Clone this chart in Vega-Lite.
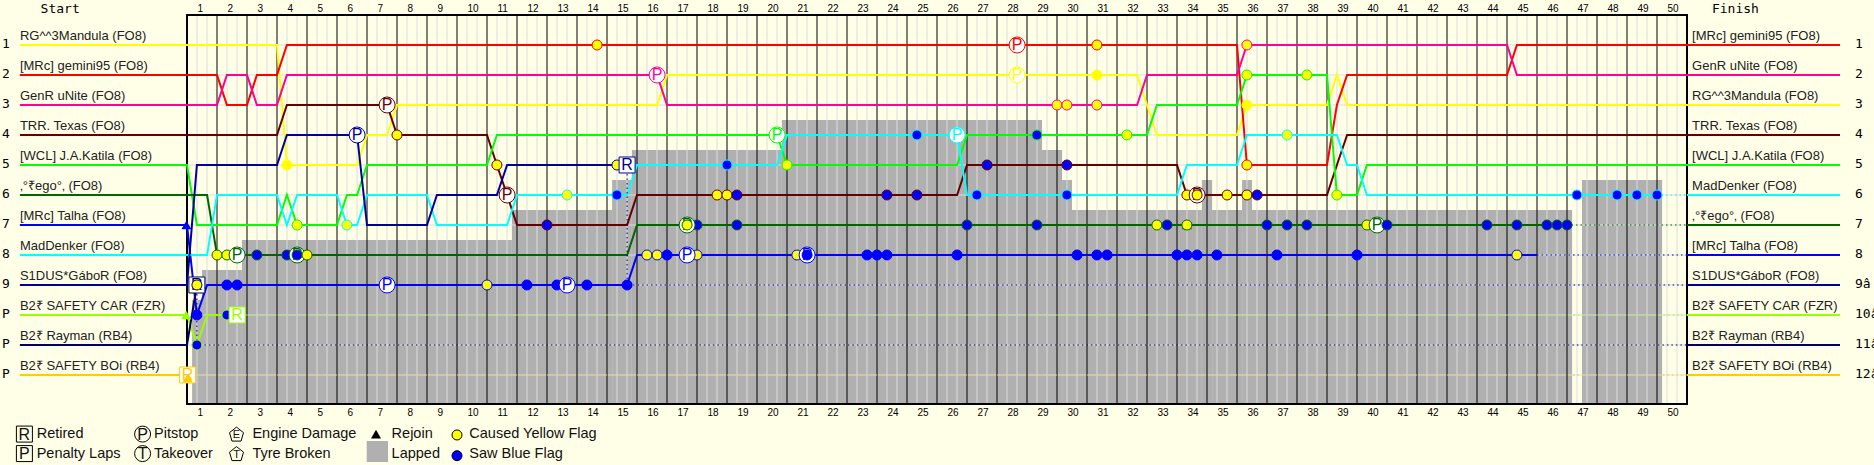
{
"$schema":"https://vega.github.io/schema/vega-lite/v6.json",
"width":1500,"height":389,"autosize":"none",
"padding":{"left":187,"top":15,"right":187,"bottom":61},
"background":"#ffffe8",
"config":{"view":{"stroke":null}},
"datasets":{
"lapped":[
{"lap":0.17,"lap2":0.5,"row":9.5,"row2":12.967},{"lap":0.5,"lap2":1.83,"row":8.5,"row2":12.967},{"lap":1.83,"lap2":10.83,"row":7.5,"row2":12.967},{"lap":10.83,"lap2":14.17,"row":6.5,"row2":12.967},{"lap":14.17,"lap2":14.83,"row":5.5,"row2":12.967},{"lap":14.83,"lap2":19.83,"row":4.5,"row2":12.967},{"lap":19.83,"lap2":28.5,"row":3.5,"row2":12.967},{"lap":28.5,"lap2":29.17,"row":4.5,"row2":12.967},{"lap":29.17,"lap2":29.5,"row":5.5,"row2":12.967},{"lap":29.5,"lap2":33.83,"row":6.5,"row2":12.967},{"lap":33.83,"lap2":34.17,"row":5.5,"row2":12.967},{"lap":34.17,"lap2":35.17,"row":6.5,"row2":12.967},{"lap":35.17,"lap2":35.5,"row":5.5,"row2":12.967},{"lap":35.5,"lap2":46.17,"row":6.5,"row2":12.967},{"lap":46.5,"lap2":49.17,"row":5.5,"row2":12.967}],
"frame":[{"lap":0,"lap2":50,"row":0,"row2":12.967}],
"legendGrey":[{"lap":5.99,"lap2":6.7,"row":14.2,"row2":14.9}],
"thirds":[{"lap":0.333,"row":0,"row2":12.967},{"lap":0.667,"row":0,"row2":12.967},{"lap":1.333,"row":0,"row2":12.967},{"lap":1.667,"row":0,"row2":12.967},{"lap":2.333,"row":0,"row2":12.967},{"lap":2.667,"row":0,"row2":12.967},{"lap":3.333,"row":0,"row2":12.967},{"lap":3.667,"row":0,"row2":12.967},{"lap":4.333,"row":0,"row2":12.967},{"lap":4.667,"row":0,"row2":12.967},{"lap":5.333,"row":0,"row2":12.967},{"lap":5.667,"row":0,"row2":12.967},{"lap":6.333,"row":0,"row2":12.967},{"lap":6.667,"row":0,"row2":12.967},{"lap":7.333,"row":0,"row2":12.967},{"lap":7.667,"row":0,"row2":12.967},{"lap":8.333,"row":0,"row2":12.967},{"lap":8.667,"row":0,"row2":12.967},{"lap":9.333,"row":0,"row2":12.967},{"lap":9.667,"row":0,"row2":12.967},{"lap":10.333,"row":0,"row2":12.967},{"lap":10.667,"row":0,"row2":12.967},{"lap":11.333,"row":0,"row2":12.967},{"lap":11.667,"row":0,"row2":12.967},{"lap":12.333,"row":0,"row2":12.967},{"lap":12.667,"row":0,"row2":12.967},{"lap":13.333,"row":0,"row2":12.967},{"lap":13.667,"row":0,"row2":12.967},{"lap":14.333,"row":0,"row2":12.967},{"lap":14.667,"row":0,"row2":12.967},{"lap":15.333,"row":0,"row2":12.967},{"lap":15.667,"row":0,"row2":12.967},{"lap":16.333,"row":0,"row2":12.967},{"lap":16.667,"row":0,"row2":12.967},{"lap":17.333,"row":0,"row2":12.967},{"lap":17.667,"row":0,"row2":12.967},{"lap":18.333,"row":0,"row2":12.967},{"lap":18.667,"row":0,"row2":12.967},{"lap":19.333,"row":0,"row2":12.967},{"lap":19.667,"row":0,"row2":12.967},{"lap":20.333,"row":0,"row2":12.967},{"lap":20.667,"row":0,"row2":12.967},{"lap":21.333,"row":0,"row2":12.967},{"lap":21.667,"row":0,"row2":12.967},{"lap":22.333,"row":0,"row2":12.967},{"lap":22.667,"row":0,"row2":12.967},{"lap":23.333,"row":0,"row2":12.967},{"lap":23.667,"row":0,"row2":12.967},{"lap":24.333,"row":0,"row2":12.967},{"lap":24.667,"row":0,"row2":12.967},{"lap":25.333,"row":0,"row2":12.967},{"lap":25.667,"row":0,"row2":12.967},{"lap":26.333,"row":0,"row2":12.967},{"lap":26.667,"row":0,"row2":12.967},{"lap":27.333,"row":0,"row2":12.967},{"lap":27.667,"row":0,"row2":12.967},{"lap":28.333,"row":0,"row2":12.967},{"lap":28.667,"row":0,"row2":12.967},{"lap":29.333,"row":0,"row2":12.967},{"lap":29.667,"row":0,"row2":12.967},{"lap":30.333,"row":0,"row2":12.967},{"lap":30.667,"row":0,"row2":12.967},{"lap":31.333,"row":0,"row2":12.967},{"lap":31.667,"row":0,"row2":12.967},{"lap":32.333,"row":0,"row2":12.967},{"lap":32.667,"row":0,"row2":12.967},{"lap":33.333,"row":0,"row2":12.967},{"lap":33.667,"row":0,"row2":12.967},{"lap":34.333,"row":0,"row2":12.967},{"lap":34.667,"row":0,"row2":12.967},{"lap":35.333,"row":0,"row2":12.967},{"lap":35.667,"row":0,"row2":12.967},{"lap":36.333,"row":0,"row2":12.967},{"lap":36.667,"row":0,"row2":12.967},{"lap":37.333,"row":0,"row2":12.967},{"lap":37.667,"row":0,"row2":12.967},{"lap":38.333,"row":0,"row2":12.967},{"lap":38.667,"row":0,"row2":12.967},{"lap":39.333,"row":0,"row2":12.967},{"lap":39.667,"row":0,"row2":12.967},{"lap":40.333,"row":0,"row2":12.967},{"lap":40.667,"row":0,"row2":12.967},{"lap":41.333,"row":0,"row2":12.967},{"lap":41.667,"row":0,"row2":12.967},{"lap":42.333,"row":0,"row2":12.967},{"lap":42.667,"row":0,"row2":12.967},{"lap":43.333,"row":0,"row2":12.967},{"lap":43.667,"row":0,"row2":12.967},{"lap":44.333,"row":0,"row2":12.967},{"lap":44.667,"row":0,"row2":12.967},{"lap":45.333,"row":0,"row2":12.967},{"lap":45.667,"row":0,"row2":12.967},{"lap":46.333,"row":0,"row2":12.967},{"lap":46.667,"row":0,"row2":12.967},{"lap":47.333,"row":0,"row2":12.967},{"lap":47.667,"row":0,"row2":12.967},{"lap":48.333,"row":0,"row2":12.967},{"lap":48.667,"row":0,"row2":12.967},{"lap":49.333,"row":0,"row2":12.967},{"lap":49.667,"row":0,"row2":12.967}],
"whole":[{"lap":1,"row":0,"row2":12.967},{"lap":2,"row":0,"row2":12.967},{"lap":3,"row":0,"row2":12.967},{"lap":4,"row":0,"row2":12.967},{"lap":5,"row":0,"row2":12.967},{"lap":6,"row":0,"row2":12.967},{"lap":7,"row":0,"row2":12.967},{"lap":8,"row":0,"row2":12.967},{"lap":9,"row":0,"row2":12.967},{"lap":10,"row":0,"row2":12.967},{"lap":11,"row":0,"row2":12.967},{"lap":12,"row":0,"row2":12.967},{"lap":13,"row":0,"row2":12.967},{"lap":14,"row":0,"row2":12.967},{"lap":15,"row":0,"row2":12.967},{"lap":16,"row":0,"row2":12.967},{"lap":17,"row":0,"row2":12.967},{"lap":18,"row":0,"row2":12.967},{"lap":19,"row":0,"row2":12.967},{"lap":20,"row":0,"row2":12.967},{"lap":21,"row":0,"row2":12.967},{"lap":22,"row":0,"row2":12.967},{"lap":23,"row":0,"row2":12.967},{"lap":24,"row":0,"row2":12.967},{"lap":25,"row":0,"row2":12.967},{"lap":26,"row":0,"row2":12.967},{"lap":27,"row":0,"row2":12.967},{"lap":28,"row":0,"row2":12.967},{"lap":29,"row":0,"row2":12.967},{"lap":30,"row":0,"row2":12.967},{"lap":31,"row":0,"row2":12.967},{"lap":32,"row":0,"row2":12.967},{"lap":33,"row":0,"row2":12.967},{"lap":34,"row":0,"row2":12.967},{"lap":35,"row":0,"row2":12.967},{"lap":36,"row":0,"row2":12.967},{"lap":37,"row":0,"row2":12.967},{"lap":38,"row":0,"row2":12.967},{"lap":39,"row":0,"row2":12.967},{"lap":40,"row":0,"row2":12.967},{"lap":41,"row":0,"row2":12.967},{"lap":42,"row":0,"row2":12.967},{"lap":43,"row":0,"row2":12.967},{"lap":44,"row":0,"row2":12.967},{"lap":45,"row":0,"row2":12.967},{"lap":46,"row":0,"row2":12.967},{"lap":47,"row":0,"row2":12.967},{"lap":48,"row":0,"row2":12.967},{"lap":49,"row":0,"row2":12.967}],
"rows":[{"row":1,"lap":0,"lap2":50},{"row":2,"lap":0,"lap2":50},{"row":3,"lap":0,"lap2":50},{"row":4,"lap":0,"lap2":50},{"row":5,"lap":0,"lap2":50},{"row":6,"lap":0,"lap2":50},{"row":7,"lap":0,"lap2":50},{"row":8,"lap":0,"lap2":50},{"row":9,"lap":0,"lap2":50},{"row":10,"lap":0,"lap2":50},{"row":11,"lap":0,"lap2":50},{"row":12,"lap":0,"lap2":50}],
"solid":[
{"driver":"Mandula","seg":"a","lap":-5.57,"row":1},{"driver":"Mandula","seg":"a","lap":3,"row":1},{"driver":"Mandula","seg":"a","lap":3.33,"row":5},{"driver":"Mandula","seg":"a","lap":5.67,"row":5},{"driver":"Mandula","seg":"a","lap":6,"row":4},{"driver":"Mandula","seg":"a","lap":6.67,"row":4},{"driver":"Mandula","seg":"a","lap":7,"row":3},{"driver":"Mandula","seg":"a","lap":15.67,"row":3},{"driver":"Mandula","seg":"a","lap":16,"row":2},{"driver":"Mandula","seg":"a","lap":31.67,"row":2},{"driver":"Mandula","seg":"a","lap":32,"row":3},{"driver":"Mandula","seg":"a","lap":32.33,"row":4},{"driver":"Mandula","seg":"a","lap":35,"row":4},{"driver":"Mandula","seg":"a","lap":35.33,"row":3},{"driver":"Mandula","seg":"a","lap":38,"row":3},{"driver":"Mandula","seg":"a","lap":38.33,"row":2},{"driver":"Mandula","seg":"a","lap":38.67,"row":3},{"driver":"Mandula","seg":"a","lap":55.1,"row":3},
{"driver":"gemini95","seg":"a","lap":-5.57,"row":2},{"driver":"gemini95","seg":"a","lap":1,"row":2},{"driver":"gemini95","seg":"a","lap":1.33,"row":3},{"driver":"gemini95","seg":"a","lap":2,"row":3},{"driver":"gemini95","seg":"a","lap":2.33,"row":2},{"driver":"gemini95","seg":"a","lap":3,"row":2},{"driver":"gemini95","seg":"a","lap":3.33,"row":1},{"driver":"gemini95","seg":"a","lap":35,"row":1},{"driver":"gemini95","seg":"a","lap":35.33,"row":5},{"driver":"gemini95","seg":"a","lap":38,"row":5},{"driver":"gemini95","seg":"a","lap":38.33,"row":3},{"driver":"gemini95","seg":"a","lap":38.67,"row":2},{"driver":"gemini95","seg":"a","lap":44,"row":2},{"driver":"gemini95","seg":"a","lap":44.33,"row":1},{"driver":"gemini95","seg":"a","lap":55.1,"row":1},
{"driver":"uNite","seg":"a","lap":-5.57,"row":3},{"driver":"uNite","seg":"a","lap":1,"row":3},{"driver":"uNite","seg":"a","lap":1.33,"row":2},{"driver":"uNite","seg":"a","lap":2,"row":2},{"driver":"uNite","seg":"a","lap":2.33,"row":3},{"driver":"uNite","seg":"a","lap":3,"row":3},{"driver":"uNite","seg":"a","lap":3.33,"row":2},{"driver":"uNite","seg":"a","lap":15.67,"row":2},{"driver":"uNite","seg":"a","lap":16,"row":3},{"driver":"uNite","seg":"a","lap":31.67,"row":3},{"driver":"uNite","seg":"a","lap":32,"row":2},{"driver":"uNite","seg":"a","lap":35,"row":2},{"driver":"uNite","seg":"a","lap":35.33,"row":1},{"driver":"uNite","seg":"a","lap":44,"row":1},{"driver":"uNite","seg":"a","lap":44.33,"row":2},{"driver":"uNite","seg":"a","lap":55.1,"row":2},
{"driver":"Texas","seg":"a","lap":-5.57,"row":4},{"driver":"Texas","seg":"a","lap":3,"row":4},{"driver":"Texas","seg":"a","lap":3.33,"row":3},{"driver":"Texas","seg":"a","lap":6.67,"row":3},{"driver":"Texas","seg":"a","lap":7,"row":4},{"driver":"Texas","seg":"a","lap":10,"row":4},{"driver":"Texas","seg":"a","lap":10.33,"row":5},{"driver":"Texas","seg":"a","lap":10.67,"row":6},{"driver":"Texas","seg":"a","lap":11,"row":7},{"driver":"Texas","seg":"a","lap":14.67,"row":7},{"driver":"Texas","seg":"a","lap":15,"row":6},{"driver":"Texas","seg":"a","lap":25.67,"row":6},{"driver":"Texas","seg":"a","lap":26,"row":5},{"driver":"Texas","seg":"a","lap":33,"row":5},{"driver":"Texas","seg":"a","lap":33.33,"row":6},{"driver":"Texas","seg":"a","lap":38,"row":6},{"driver":"Texas","seg":"a","lap":38.33,"row":5},{"driver":"Texas","seg":"a","lap":38.67,"row":4},{"driver":"Texas","seg":"a","lap":55.1,"row":4},
{"driver":"Katila","seg":"a","lap":-5.57,"row":5},{"driver":"Katila","seg":"a","lap":0,"row":5},{"driver":"Katila","seg":"a","lap":0.33,"row":7},{"driver":"Katila","seg":"a","lap":3,"row":7},{"driver":"Katila","seg":"a","lap":3.33,"row":6},{"driver":"Katila","seg":"a","lap":3.67,"row":7},{"driver":"Katila","seg":"a","lap":5,"row":7},{"driver":"Katila","seg":"a","lap":5.33,"row":6},{"driver":"Katila","seg":"a","lap":5.67,"row":6},{"driver":"Katila","seg":"a","lap":6,"row":5},{"driver":"Katila","seg":"a","lap":10,"row":5},{"driver":"Katila","seg":"a","lap":10.33,"row":4},{"driver":"Katila","seg":"a","lap":19.67,"row":4},{"driver":"Katila","seg":"a","lap":20,"row":5},{"driver":"Katila","seg":"a","lap":25.67,"row":5},{"driver":"Katila","seg":"a","lap":26,"row":4},{"driver":"Katila","seg":"a","lap":32,"row":4},{"driver":"Katila","seg":"a","lap":32.33,"row":3},{"driver":"Katila","seg":"a","lap":35,"row":3},{"driver":"Katila","seg":"a","lap":35.33,"row":2},{"driver":"Katila","seg":"a","lap":38,"row":2},{"driver":"Katila","seg":"a","lap":38.33,"row":6},{"driver":"Katila","seg":"a","lap":39,"row":6},{"driver":"Katila","seg":"a","lap":39.33,"row":5},{"driver":"Katila","seg":"a","lap":55.1,"row":5},
{"driver":"Rego","seg":"a","lap":-5.57,"row":6},{"driver":"Rego","seg":"a","lap":0.67,"row":6},{"driver":"Rego","seg":"a","lap":1,"row":8},{"driver":"Rego","seg":"a","lap":14.67,"row":8},{"driver":"Rego","seg":"a","lap":15,"row":7},{"driver":"Rego","seg":"a","lap":46,"row":7},{"driver":"Rego","seg":"z","lap":50,"row":7},{"driver":"Rego","seg":"z","lap":55.1,"row":7},
{"driver":"Talha","seg":"a","lap":-5.57,"row":7},{"driver":"Talha","seg":"a","lap":0,"row":7},{"driver":"Talha","seg":"a","lap":0.33,"row":10},{"driver":"Talha","seg":"a","lap":0.67,"row":9},{"driver":"Talha","seg":"a","lap":14.67,"row":9},{"driver":"Talha","seg":"a","lap":15,"row":8},{"driver":"Talha","seg":"a","lap":45,"row":8},{"driver":"Talha","seg":"z","lap":50,"row":8},{"driver":"Talha","seg":"z","lap":55.1,"row":8},
{"driver":"MadDenker","seg":"a","lap":-5.57,"row":8},{"driver":"MadDenker","seg":"a","lap":0.67,"row":8},{"driver":"MadDenker","seg":"a","lap":1,"row":6},{"driver":"MadDenker","seg":"a","lap":3,"row":6},{"driver":"MadDenker","seg":"a","lap":3.33,"row":7},{"driver":"MadDenker","seg":"a","lap":3.67,"row":6},{"driver":"MadDenker","seg":"a","lap":5,"row":6},{"driver":"MadDenker","seg":"a","lap":5.33,"row":7},{"driver":"MadDenker","seg":"a","lap":5.67,"row":7},{"driver":"MadDenker","seg":"a","lap":6,"row":6},{"driver":"MadDenker","seg":"a","lap":8,"row":6},{"driver":"MadDenker","seg":"a","lap":8.33,"row":7},{"driver":"MadDenker","seg":"a","lap":10.67,"row":7},{"driver":"MadDenker","seg":"a","lap":11,"row":6},{"driver":"MadDenker","seg":"a","lap":14.67,"row":6},{"driver":"MadDenker","seg":"a","lap":15,"row":5},{"driver":"MadDenker","seg":"a","lap":19.67,"row":5},{"driver":"MadDenker","seg":"a","lap":20,"row":4},{"driver":"MadDenker","seg":"a","lap":25.67,"row":4},{"driver":"MadDenker","seg":"a","lap":26,"row":6},{"driver":"MadDenker","seg":"a","lap":33,"row":6},{"driver":"MadDenker","seg":"a","lap":33.33,"row":5},{"driver":"MadDenker","seg":"a","lap":35,"row":5},{"driver":"MadDenker","seg":"a","lap":35.33,"row":4},{"driver":"MadDenker","seg":"a","lap":38.33,"row":4},{"driver":"MadDenker","seg":"a","lap":38.67,"row":5},{"driver":"MadDenker","seg":"a","lap":39,"row":5},{"driver":"MadDenker","seg":"a","lap":39.33,"row":6},{"driver":"MadDenker","seg":"a","lap":49,"row":6},{"driver":"MadDenker","seg":"z","lap":50,"row":6},{"driver":"MadDenker","seg":"z","lap":55.1,"row":6},
{"driver":"Gabor","seg":"a","lap":-5.57,"row":9},{"driver":"Gabor","seg":"a","lap":0,"row":9},{"driver":"Gabor","seg":"a","lap":0.33,"row":5},{"driver":"Gabor","seg":"a","lap":3,"row":5},{"driver":"Gabor","seg":"a","lap":3.33,"row":4},{"driver":"Gabor","seg":"a","lap":5.67,"row":4},{"driver":"Gabor","seg":"a","lap":6,"row":7},{"driver":"Gabor","seg":"a","lap":8,"row":7},{"driver":"Gabor","seg":"a","lap":8.33,"row":6},{"driver":"Gabor","seg":"a","lap":10.33,"row":6},{"driver":"Gabor","seg":"a","lap":10.67,"row":5},{"driver":"Gabor","seg":"a","lap":14.67,"row":5},{"driver":"Gabor","seg":"z","lap":50,"row":9},{"driver":"Gabor","seg":"z","lap":55.1,"row":9},
{"driver":"SafetyCar","seg":"a","lap":-5.57,"row":10},{"driver":"SafetyCar","seg":"a","lap":0,"row":10},{"driver":"SafetyCar","seg":"a","lap":0.33,"row":11},{"driver":"SafetyCar","seg":"a","lap":0.67,"row":10},{"driver":"SafetyCar","seg":"a","lap":1.67,"row":10},{"driver":"SafetyCar","seg":"z","lap":50,"row":10},{"driver":"SafetyCar","seg":"z","lap":55.1,"row":10},
{"driver":"Rayman","seg":"a","lap":-5.57,"row":11},{"driver":"Rayman","seg":"a","lap":0,"row":11},{"driver":"Rayman","seg":"a","lap":0.33,"row":9},{"driver":"Rayman","seg":"z","lap":50,"row":11},{"driver":"Rayman","seg":"z","lap":55.1,"row":11},
{"driver":"BOi","seg":"a","lap":-5.57,"row":12},{"driver":"BOi","seg":"a","lap":0,"row":12},{"driver":"BOi","seg":"z","lap":50,"row":12},{"driver":"BOi","seg":"z","lap":55.1,"row":12}],
"dotted":[
{"driver":"Rego","lap":46,"row":7},{"driver":"Rego","lap":50,"row":7},
{"driver":"Talha","lap":45,"row":8},{"driver":"Talha","lap":50,"row":8},
{"driver":"MadDenker","lap":49,"row":6},{"driver":"MadDenker","lap":50,"row":6},
{"driver":"Gabor","lap":14.67,"row":5},{"driver":"Gabor","lap":14.67,"row":9},{"driver":"Gabor","lap":50,"row":9},
{"driver":"SafetyCar","lap":1.67,"row":10},{"driver":"SafetyCar","lap":50,"row":10},
{"driver":"Rayman","lap":0.33,"row":9},{"driver":"Rayman","lap":0.33,"row":11},{"driver":"Rayman","lap":50,"row":11},
{"driver":"BOi","lap":0,"row":12},{"driver":"BOi","lap":50,"row":12}],
"dotsUnder":[
{"driver":"gemini95","kind":"Y","lap":13.67,"row":1},{"driver":"gemini95","kind":"Y","lap":30.33,"row":1},{"driver":"uNite","kind":"Y","lap":35.33,"row":1},
{"driver":"Mandula","kind":"Y","lap":30.33,"row":2},{"driver":"Katila","kind":"Y","lap":35.33,"row":2},{"driver":"Katila","kind":"Y","lap":37.33,"row":2},
{"driver":"uNite","kind":"Y","lap":29,"row":3},{"driver":"uNite","kind":"Y","lap":29.33,"row":3},{"driver":"uNite","kind":"Y","lap":30.33,"row":3},{"driver":"Mandula","kind":"Y","lap":35.33,"row":3},
{"driver":"Texas","kind":"Y","lap":7,"row":4},{"driver":"MadDenker","kind":"B","lap":24.33,"row":4},{"driver":"Katila","kind":"B","lap":28.33,"row":4},{"driver":"Katila","kind":"Y","lap":31.33,"row":4},{"driver":"MadDenker","kind":"Y","lap":36.67,"row":4},
{"driver":"Mandula","kind":"Y","lap":3.33,"row":5},{"driver":"Texas","kind":"Y","lap":10.33,"row":5},{"driver":"Gabor","kind":"Y","lap":14.33,"row":5},{"driver":"MadDenker","kind":"B","lap":18,"row":5},{"driver":"Katila","kind":"Y","lap":20,"row":5},{"driver":"Texas","kind":"B","lap":26.67,"row":5},{"driver":"Texas","kind":"B","lap":29.33,"row":5},{"driver":"gemini95","kind":"Y","lap":35.33,"row":5},
{"driver":"MadDenker","kind":"Y","lap":12.67,"row":6},{"driver":"MadDenker","kind":"B","lap":14.33,"row":6},{"driver":"Texas","kind":"Y","lap":17.67,"row":6},{"driver":"Texas","kind":"Y","lap":18,"row":6},{"driver":"Texas","kind":"B","lap":18.33,"row":6},{"driver":"Texas","kind":"B","lap":23.33,"row":6},{"driver":"Texas","kind":"B","lap":24.33,"row":6},{"driver":"MadDenker","kind":"B","lap":26.33,"row":6},{"driver":"MadDenker","kind":"B","lap":29.33,"row":6},{"driver":"Texas","kind":"Y","lap":33.33,"row":6},{"driver":"Texas","kind":"Y","lap":34.67,"row":6},{"driver":"Texas","kind":"Y","lap":35.33,"row":6},{"driver":"Texas","kind":"B","lap":35.67,"row":6},{"driver":"Katila","kind":"Y","lap":38.33,"row":6},{"driver":"MadDenker","kind":"B","lap":46.33,"row":6},{"driver":"MadDenker","kind":"B","lap":47.67,"row":6},{"driver":"MadDenker","kind":"B","lap":48.33,"row":6},{"driver":"MadDenker","kind":"B","lap":49,"row":6},
{"driver":"Katila","kind":"Y","lap":3.67,"row":7},{"driver":"MadDenker","kind":"Y","lap":5.33,"row":7},{"driver":"Texas","kind":"B","lap":12,"row":7},{"driver":"Rego","kind":"B","lap":17,"row":7},{"driver":"Rego","kind":"B","lap":18.33,"row":7},{"driver":"Rego","kind":"B","lap":26,"row":7},{"driver":"Rego","kind":"B","lap":28.33,"row":7},{"driver":"Rego","kind":"Y","lap":32.33,"row":7},{"driver":"Rego","kind":"B","lap":32.67,"row":7},{"driver":"Rego","kind":"B","lap":36,"row":7},{"driver":"Rego","kind":"B","lap":36.67,"row":7},{"driver":"Rego","kind":"B","lap":37.33,"row":7},{"driver":"Rego","kind":"Y","lap":39.33,"row":7},{"driver":"Rego","kind":"B","lap":43.33,"row":7},{"driver":"Rego","kind":"B","lap":44.33,"row":7},{"driver":"Rego","kind":"B","lap":45.33,"row":7},{"driver":"Rego","kind":"B","lap":45.67,"row":7},{"driver":"Rego","kind":"B","lap":46,"row":7},
{"driver":"Rego","kind":"Y","lap":1,"row":8},{"driver":"Rego","kind":"Y","lap":1.33,"row":8},{"driver":"Rego","kind":"B","lap":2.33,"row":8},{"driver":"Rego","kind":"B","lap":3.33,"row":8},{"driver":"Talha","kind":"Y","lap":15.33,"row":8},{"driver":"Talha","kind":"Y","lap":15.67,"row":8},{"driver":"Talha","kind":"B","lap":16,"row":8},{"driver":"Talha","kind":"Y","lap":17,"row":8},{"driver":"Talha","kind":"Y","lap":20.33,"row":8},{"driver":"Talha","kind":"B","lap":22.67,"row":8},{"driver":"Talha","kind":"B","lap":23,"row":8},{"driver":"Talha","kind":"B","lap":23.33,"row":8},{"driver":"Talha","kind":"B","lap":25.67,"row":8},{"driver":"Talha","kind":"B","lap":29.67,"row":8},{"driver":"Talha","kind":"B","lap":30.33,"row":8},{"driver":"Talha","kind":"B","lap":30.67,"row":8},{"driver":"Talha","kind":"B","lap":33,"row":8},{"driver":"Talha","kind":"B","lap":33.33,"row":8},{"driver":"Talha","kind":"B","lap":33.67,"row":8},{"driver":"Talha","kind":"B","lap":34.33,"row":8},{"driver":"Talha","kind":"B","lap":36.33,"row":8},{"driver":"Talha","kind":"B","lap":39,"row":8},{"driver":"Talha","kind":"Y","lap":44.33,"row":8},
{"driver":"Talha","kind":"B","lap":1.33,"row":9},{"driver":"Talha","kind":"B","lap":1.67,"row":9},{"driver":"Talha","kind":"Y","lap":10,"row":9},{"driver":"Talha","kind":"B","lap":11.33,"row":9},{"driver":"Talha","kind":"B","lap":12.33,"row":9},{"driver":"Talha","kind":"B","lap":13.33,"row":9},{"driver":"Talha","kind":"B","lap":14.67,"row":9},
{"driver":"Talha","kind":"B","lap":0.33,"row":10},{"driver":"SafetyCar","kind":"B","lap":1.33,"row":10},{"driver":"SafetyCar","kind":"B","lap":0.33,"row":11}],
"dotsOver":[
{"driver":"Texas","kind":"Y","lap":33.67,"row":6},{"driver":"Rego","kind":"Y","lap":16.67,"row":7},{"driver":"Rego","kind":"Y","lap":33.33,"row":7},{"driver":"Rego","kind":"B","lap":40,"row":7},{"driver":"Rego","kind":"B","lap":3.67,"row":8},{"driver":"Rego","kind":"Y","lap":4,"row":8},{"driver":"Talha","kind":"B","lap":20.67,"row":8},{"driver":"Rayman","kind":"Y","lap":0.33,"row":9}],
"pits":[
{"driver":"Texas","lap":6.67,"row":3},{"driver":"Gabor","lap":5.67,"row":4},{"driver":"uNite","lap":15.67,"row":2},{"driver":"Katila","lap":19.67,"row":4},{"driver":"MadDenker","lap":25.67,"row":4},{"driver":"gemini95","lap":27.67,"row":1},{"driver":"Mandula","lap":27.67,"row":2},{"driver":"Rego","lap":1.67,"row":8},{"driver":"Rego","lap":3.67,"row":8},{"driver":"Talha","lap":6.67,"row":9},{"driver":"Texas","lap":10.67,"row":6},{"driver":"Talha","lap":12.67,"row":9},{"driver":"Talha","lap":16.67,"row":8},{"driver":"Rego","lap":16.67,"row":7},{"driver":"Talha","lap":20.67,"row":8},{"driver":"Texas","lap":33.67,"row":6},{"driver":"Rego","lap":39.67,"row":7}],
"retired":[{"driver":"Gabor","lap":14.67,"row":5},{"driver":"Rayman","lap":0.33,"row":9},{"driver":"SafetyCar","lap":1.67,"row":10},{"driver":"BOi","lap":0.02,"row":12}],
"rejoin":[{"driver":"Talha","lap":-0.02,"row":7},{"driver":"SafetyCar","lap":-0.03,"row":10},{"driver":"BOi","lap":0.02,"row":12.1},{"driver":"Rego","lap":33.33,"row":7}],
"names":[
{"lap":-5.57,"row":0.833,"label":"RG^^3Mandula (FO8)"},{"lap":-5.57,"row":1.833,"label":"[MRc] gemini95 (FO8)"},{"lap":-5.57,"row":2.833,"label":"GenR uNite (FO8)"},{"lap":-5.57,"row":3.833,"label":"TRR. Texas (FO8)"},{"lap":-5.57,"row":4.833,"label":"[WCL] J.A.Katila (FO8)"},{"lap":-5.57,"row":5.833,"label":"‚°₹ego°‚  (FO8)"},{"lap":-5.57,"row":6.833,"label":"[MRc] Talha (FO8)"},{"lap":-5.57,"row":7.833,"label":"MadDenker (FO8)"},{"lap":-5.57,"row":8.833,"label":"S1DUS*GáboR (FO8)"},{"lap":-5.57,"row":9.833,"label":"B2₹ SAFETY CAR (FZR)"},{"lap":-5.57,"row":10.833,"label":"B2₹ Rayman (RB4)"},{"lap":-5.57,"row":11.833,"label":"B2₹ SAFETY BOi (RB4)"},
{"lap":50.17,"row":0.833,"label":"[MRc] gemini95 (FO8)"},{"lap":50.17,"row":1.833,"label":"GenR uNite (FO8)"},{"lap":50.17,"row":2.833,"label":"RG^^3Mandula (FO8)"},{"lap":50.17,"row":3.833,"label":"TRR. Texas (FO8)"},{"lap":50.17,"row":4.833,"label":"[WCL] J.A.Katila (FO8)"},{"lap":50.17,"row":5.833,"label":"MadDenker (FO8)"},{"lap":50.17,"row":6.833,"label":"‚°₹ego°‚  (FO8)"},{"lap":50.17,"row":7.833,"label":"[MRc] Talha (FO8)"},{"lap":50.17,"row":8.833,"label":"S1DUS*GáboR (FO8)"},{"lap":50.17,"row":9.833,"label":"B2₹ SAFETY CAR (FZR)"},{"lap":50.17,"row":10.833,"label":"B2₹ Rayman (RB4)"},{"lap":50.17,"row":11.833,"label":"B2₹ SAFETY BOi (RB4)"}],
"positions":[
{"lap":-6.17,"row":1.11,"label":"1"},{"lap":-6.17,"row":2.11,"label":"2"},{"lap":-6.17,"row":3.11,"label":"3"},{"lap":-6.17,"row":4.11,"label":"4"},{"lap":-6.17,"row":5.11,"label":"5"},{"lap":-6.17,"row":6.11,"label":"6"},{"lap":-6.17,"row":7.11,"label":"7"},{"lap":-6.17,"row":8.11,"label":"8"},{"lap":-6.17,"row":9.11,"label":"9"},{"lap":-6.17,"row":10.11,"label":"P"},{"lap":-6.17,"row":11.11,"label":"P"},{"lap":-6.17,"row":12.11,"label":"P"},
{"lap":55.6,"row":1.11,"label":"1"},{"lap":55.6,"row":2.11,"label":"2"},{"lap":55.6,"row":3.11,"label":"3"},{"lap":55.6,"row":4.11,"label":"4"},{"lap":55.6,"row":5.11,"label":"5"},{"lap":55.6,"row":6.11,"label":"6"},{"lap":55.6,"row":7.11,"label":"7"},{"lap":55.6,"row":8.11,"label":"8"},{"lap":55.6,"row":9.11,"label":"9â"},{"lap":55.6,"row":10.11,"label":"10â"},{"lap":55.6,"row":11.11,"label":"11â"},{"lap":55.6,"row":12.11,"label":"12â"}],
"headers":[{"lap":-4.88,"row":-0.06,"label":"Start"},{"lap":50.83,"row":-0.06,"label":"Finish"}],
"lapLabels":[
{"lap":0.35,"row":-0.2,"label":"1"},{"lap":1.35,"row":-0.2,"label":"2"},{"lap":2.35,"row":-0.2,"label":"3"},{"lap":3.35,"row":-0.2,"label":"4"},{"lap":4.35,"row":-0.2,"label":"5"},{"lap":5.35,"row":-0.2,"label":"6"},{"lap":6.35,"row":-0.2,"label":"7"},{"lap":7.35,"row":-0.2,"label":"8"},{"lap":8.35,"row":-0.2,"label":"9"},{"lap":9.35,"row":-0.2,"label":"10"},{"lap":10.35,"row":-0.2,"label":"11"},{"lap":11.35,"row":-0.2,"label":"12"},{"lap":12.35,"row":-0.2,"label":"13"},{"lap":13.35,"row":-0.2,"label":"14"},{"lap":14.35,"row":-0.2,"label":"15"},{"lap":15.35,"row":-0.2,"label":"16"},{"lap":16.35,"row":-0.2,"label":"17"},{"lap":17.35,"row":-0.2,"label":"18"},{"lap":18.35,"row":-0.2,"label":"19"},{"lap":19.35,"row":-0.2,"label":"20"},{"lap":20.35,"row":-0.2,"label":"21"},{"lap":21.35,"row":-0.2,"label":"22"},{"lap":22.35,"row":-0.2,"label":"23"},{"lap":23.35,"row":-0.2,"label":"24"},{"lap":24.35,"row":-0.2,"label":"25"},{"lap":25.35,"row":-0.2,"label":"26"},{"lap":26.35,"row":-0.2,"label":"27"},{"lap":27.35,"row":-0.2,"label":"28"},{"lap":28.35,"row":-0.2,"label":"29"},{"lap":29.35,"row":-0.2,"label":"30"},{"lap":30.35,"row":-0.2,"label":"31"},{"lap":31.35,"row":-0.2,"label":"32"},{"lap":32.35,"row":-0.2,"label":"33"},{"lap":33.35,"row":-0.2,"label":"34"},{"lap":34.35,"row":-0.2,"label":"35"},{"lap":35.35,"row":-0.2,"label":"36"},{"lap":36.35,"row":-0.2,"label":"37"},{"lap":37.35,"row":-0.2,"label":"38"},{"lap":38.35,"row":-0.2,"label":"39"},{"lap":39.35,"row":-0.2,"label":"40"},{"lap":40.35,"row":-0.2,"label":"41"},{"lap":41.35,"row":-0.2,"label":"42"},{"lap":42.35,"row":-0.2,"label":"43"},{"lap":43.35,"row":-0.2,"label":"44"},{"lap":44.35,"row":-0.2,"label":"45"},{"lap":45.35,"row":-0.2,"label":"46"},{"lap":46.35,"row":-0.2,"label":"47"},{"lap":47.35,"row":-0.2,"label":"48"},{"lap":48.35,"row":-0.2,"label":"49"},{"lap":49.35,"row":-0.2,"label":"50"},
{"lap":0.35,"row":13.27,"label":"1"},{"lap":1.35,"row":13.27,"label":"2"},{"lap":2.35,"row":13.27,"label":"3"},{"lap":3.35,"row":13.27,"label":"4"},{"lap":4.35,"row":13.27,"label":"5"},{"lap":5.35,"row":13.27,"label":"6"},{"lap":6.35,"row":13.27,"label":"7"},{"lap":7.35,"row":13.27,"label":"8"},{"lap":8.35,"row":13.27,"label":"9"},{"lap":9.35,"row":13.27,"label":"10"},{"lap":10.35,"row":13.27,"label":"11"},{"lap":11.35,"row":13.27,"label":"12"},{"lap":12.35,"row":13.27,"label":"13"},{"lap":13.35,"row":13.27,"label":"14"},{"lap":14.35,"row":13.27,"label":"15"},{"lap":15.35,"row":13.27,"label":"16"},{"lap":16.35,"row":13.27,"label":"17"},{"lap":17.35,"row":13.27,"label":"18"},{"lap":18.35,"row":13.27,"label":"19"},{"lap":19.35,"row":13.27,"label":"20"},{"lap":20.35,"row":13.27,"label":"21"},{"lap":21.35,"row":13.27,"label":"22"},{"lap":22.35,"row":13.27,"label":"23"},{"lap":23.35,"row":13.27,"label":"24"},{"lap":24.35,"row":13.27,"label":"25"},{"lap":25.35,"row":13.27,"label":"26"},{"lap":26.35,"row":13.27,"label":"27"},{"lap":27.35,"row":13.27,"label":"28"},{"lap":28.35,"row":13.27,"label":"29"},{"lap":29.35,"row":13.27,"label":"30"},{"lap":30.35,"row":13.27,"label":"31"},{"lap":31.35,"row":13.27,"label":"32"},{"lap":32.35,"row":13.27,"label":"33"},{"lap":33.35,"row":13.27,"label":"34"},{"lap":34.35,"row":13.27,"label":"35"},{"lap":35.35,"row":13.27,"label":"36"},{"lap":36.35,"row":13.27,"label":"37"},{"lap":37.35,"row":13.27,"label":"38"},{"lap":38.35,"row":13.27,"label":"39"},{"lap":39.35,"row":13.27,"label":"40"},{"lap":40.35,"row":13.27,"label":"41"},{"lap":41.35,"row":13.27,"label":"42"},{"lap":42.35,"row":13.27,"label":"43"},{"lap":43.35,"row":13.27,"label":"44"},{"lap":44.35,"row":13.27,"label":"45"},{"lap":45.35,"row":13.27,"label":"46"},{"lap":46.35,"row":13.27,"label":"47"},{"lap":47.35,"row":13.27,"label":"48"},{"lap":48.35,"row":13.27,"label":"49"},{"lap":49.35,"row":13.27,"label":"50"}],
"legendText":[
{"lap":-5.01,"row":13.97,"label":"Retired"},{"lap":-5.01,"row":14.63,"label":"Penalty Laps"},{"lap":-1.1,"row":13.97,"label":"Pitstop"},{"lap":-1.1,"row":14.63,"label":"Takeover"},{"lap":2.18,"row":13.97,"label":"Engine Damage"},{"lap":2.18,"row":14.63,"label":"Tyre Broken"},{"lap":6.82,"row":13.97,"label":"Rejoin"},{"lap":6.82,"row":14.63,"label":"Lapped"},{"lap":9.41,"row":13.97,"label":"Caused Yellow Flag"},{"lap":9.41,"row":14.63,"label":"Saw Blue Flag"}],
"legendBoxes":[{"lap":-5.42,"row":13.97,"label":"R"},{"lap":-5.42,"row":14.62,"label":"P"}],
"legendCircles":[{"lap":-1.48,"row":13.97,"label":"P"},{"lap":-1.48,"row":14.62,"label":"T"}],
"legendPent":[{"lap":1.65,"row":13.97,"label":"E"},{"lap":1.65,"row":14.62,"label":"T"}],
"legendTri":[{"lap":6.3,"row":13.97}],
"legendDots":[{"kind":"Y","lap":9,"row":14},{"kind":"B","lap":9,"row":14.69}]
},
"encoding":{
"x":{"field":"lap","type":"quantitative","scale":{"domain":[0,50],"nice":false,"zero":false},"axis":null},
"y":{"field":"row","type":"quantitative","scale":{"domain":[0,12.967],"nice":false,"zero":false,"reverse":true},"axis":null}
},
"layer":[
{"data":{"name":"lapped"},"mark":{"type":"rect","fill":"#b0b0b0","clip":false},"encoding":{"x2":{"field":"lap2"},"y2":{"field":"row2"}}},
{"data":{"name":"thirds"},"mark":{"type":"rule","stroke":"#dcdcdc","strokeWidth":1},"encoding":{"y2":{"field":"row2"}}},
{"data":{"name":"rows"},"mark":{"type":"rule","stroke":"#dcdcdc","strokeWidth":1},"encoding":{"x2":{"field":"lap2"}}},
{"data":{"name":"whole"},"mark":{"type":"rule","stroke":"#000000","strokeWidth":1},"encoding":{"y2":{"field":"row2"}}},
{"data":{"name":"frame"},"mark":{"type":"rect","fill":null,"stroke":"#000000","strokeWidth":2},"encoding":{"x2":{"field":"lap2"},"y2":{"field":"row2"}}},
{"data":{"name":"solid"},"mark":{"type":"line","strokeWidth":2,"interpolate":"linear"},"encoding":{"order":null,"detail":{"field":"seg"},"stroke":{"field":"driver","type":"nominal","legend":null,"scale":{"domain":["Mandula","gemini95","uNite","Texas","Katila","Rego","Talha","MadDenker","Gabor","SafetyCar","Rayman","BOi"],"range":["#ffff00","#ff0000","#ff0099","#660000","#00ff00","#006600","#0000ff","#00ffff","#000099","#99ff00","#000066","#ffcc00"]}}}},
{"data":{"name":"dotted"},"mark":{"type":"line","strokeWidth":1,"strokeDash":[1.5,3]},"encoding":{"order":null,"stroke":{"field":"driver","type":"nominal","legend":null,"scale":{"domain":["Mandula","gemini95","uNite","Texas","Katila","Rego","Talha","MadDenker","Gabor","SafetyCar","Rayman","BOi"],"range":["#ffff00","#ff0000","#ff0099","#660000","#00ff00","#006600","#0000ff","#00ffff","#000099","#99ff00","#000066","#ffcc00"]}}}},
{"data":{"name":"dotsUnder"},"mark":{"type":"point","shape":"circle","filled":true,"size":100,"strokeWidth":1,"opacity":1},"encoding":{"fill":{"condition":{"test":"datum.kind==='Y'","value":"#ffff00"},"value":"#0000ff"},"stroke":{"field":"driver","type":"nominal","legend":null,"scale":{"domain":["Mandula","gemini95","uNite","Texas","Katila","Rego","Talha","MadDenker","Gabor","SafetyCar","Rayman","BOi"],"range":["#ffff00","#ff0000","#ff0099","#660000","#00ff00","#006600","#0000ff","#00ffff","#000099","#99ff00","#000066","#ffcc00"]}}}},
{"data":{"name":"pits"},"mark":{"type":"point","shape":"circle","filled":true,"fill":"#ffffff","size":256,"strokeWidth":1,"opacity":1},"encoding":{"stroke":{"field":"driver","type":"nominal","legend":null,"scale":{"domain":["Mandula","gemini95","uNite","Texas","Katila","Rego","Talha","MadDenker","Gabor","SafetyCar","Rayman","BOi"],"range":["#ffff00","#ff0000","#ff0099","#660000","#00ff00","#006600","#0000ff","#00ffff","#000099","#99ff00","#000066","#ffcc00"]}}}},
{"data":{"name":"pits"},"mark":{"type":"text","text":"P","font":"Liberation Sans","fontSize":16,"align":"center","baseline":"middle","dy":0.5},"encoding":{"fill":{"field":"driver","type":"nominal","legend":null,"scale":{"domain":["Mandula","gemini95","uNite","Texas","Katila","Rego","Talha","MadDenker","Gabor","SafetyCar","Rayman","BOi"],"range":["#ffff00","#ff0000","#ff0099","#660000","#00ff00","#006600","#0000ff","#00ffff","#000099","#99ff00","#000066","#ffcc00"]}}}},
{"data":{"name":"retired"},"mark":{"type":"point","shape":"square","filled":true,"fill":"#ffffff","size":256,"strokeWidth":1,"opacity":1},"encoding":{"stroke":{"field":"driver","type":"nominal","legend":null,"scale":{"domain":["Mandula","gemini95","uNite","Texas","Katila","Rego","Talha","MadDenker","Gabor","SafetyCar","Rayman","BOi"],"range":["#ffff00","#ff0000","#ff0099","#660000","#00ff00","#006600","#0000ff","#00ffff","#000099","#99ff00","#000066","#ffcc00"]}}}},
{"data":{"name":"retired"},"mark":{"type":"text","text":"R","font":"Liberation Sans","fontSize":16,"align":"center","baseline":"middle","dy":0.5},"encoding":{"fill":{"field":"driver","type":"nominal","legend":null,"scale":{"domain":["Mandula","gemini95","uNite","Texas","Katila","Rego","Talha","MadDenker","Gabor","SafetyCar","Rayman","BOi"],"range":["#ffff00","#ff0000","#ff0099","#660000","#00ff00","#006600","#0000ff","#00ffff","#000099","#99ff00","#000066","#ffcc00"]}}}},
{"data":{"name":"rejoin"},"mark":{"type":"point","shape":"triangle-up","filled":true,"size":100,"opacity":1},"encoding":{"fill":{"field":"driver","type":"nominal","legend":null,"scale":{"domain":["Mandula","gemini95","uNite","Texas","Katila","Rego","Talha","MadDenker","Gabor","SafetyCar","Rayman","BOi"],"range":["#ffff00","#ff0000","#ff0099","#660000","#00ff00","#006600","#0000ff","#00ffff","#000099","#99ff00","#000066","#ffcc00"]}}}},
{"data":{"name":"dotsOver"},"mark":{"type":"point","shape":"circle","filled":true,"size":100,"strokeWidth":1,"opacity":1},"encoding":{"fill":{"condition":{"test":"datum.kind==='Y'","value":"#ffff00"},"value":"#0000ff"},"stroke":{"field":"driver","type":"nominal","legend":null,"scale":{"domain":["Mandula","gemini95","uNite","Texas","Katila","Rego","Talha","MadDenker","Gabor","SafetyCar","Rayman","BOi"],"range":["#ffff00","#ff0000","#ff0099","#660000","#00ff00","#006600","#0000ff","#00ffff","#000099","#99ff00","#000066","#ffcc00"]}}}},
{"data":{"name":"names"},"mark":{"type":"text","font":"Liberation Sans","fontSize":13,"align":"left","baseline":"alphabetic","fill":"#222222"},"encoding":{"text":{"field":"label"}}},
{"data":{"name":"positions"},"mark":{"type":"text","font":"DejaVu Sans Mono","fontSize":13,"align":"left","baseline":"alphabetic","fill":"#000000"},"encoding":{"text":{"field":"label"}}},
{"data":{"name":"headers"},"mark":{"type":"text","font":"DejaVu Sans Mono","fontSize":13,"align":"left","baseline":"alphabetic","fill":"#000000"},"encoding":{"text":{"field":"label"}}},
{"data":{"name":"lapLabels"},"mark":{"type":"text","font":"Liberation Sans","fontSize":10,"align":"left","baseline":"middle","fill":"#000000"},"encoding":{"text":{"field":"label"}}},
{"data":{"name":"legendText"},"mark":{"type":"text","font":"Liberation Sans","fontSize":14.5,"align":"left","baseline":"middle","fill":"#111111"},"encoding":{"text":{"field":"label"}}},
{"data":{"name":"legendBoxes"},"mark":{"type":"point","shape":"square","size":256,"strokeWidth":1,"stroke":"#000000","fill":null,"opacity":1}},
{"data":{"name":"legendCircles"},"mark":{"type":"point","shape":"circle","size":256,"strokeWidth":1,"stroke":"#000000","fill":null,"opacity":1}},
{"data":{"name":"legendPent"},"mark":{"type":"point","shape":"M0,-1L1,-0.2L0.65,1L-0.65,1L-1,-0.2Z","size":196,"strokeWidth":1,"stroke":"#000000","fill":null,"opacity":1}},
{"data":{"name":"legendBoxes"},"mark":{"type":"text","font":"Liberation Sans","fontSize":16,"align":"center","baseline":"middle","dy":0.5,"fill":"#111111"},"encoding":{"text":{"field":"label"}}},
{"data":{"name":"legendCircles"},"mark":{"type":"text","font":"Liberation Sans","fontSize":16,"align":"center","baseline":"middle","dy":0.5,"fill":"#111111"},"encoding":{"text":{"field":"label"}}},
{"data":{"name":"legendPent"},"mark":{"type":"text","font":"Liberation Sans","fontSize":11,"align":"center","baseline":"middle","dy":1,"fill":"#111111"},"encoding":{"text":{"field":"label"}}},
{"data":{"name":"legendTri"},"mark":{"type":"point","shape":"triangle-up","filled":true,"fill":"#000000","size":100,"opacity":1}},
{"data":{"name":"legendGrey"},"mark":{"type":"rect","fill":"#b0b0b0"},"encoding":{"x2":{"field":"lap2"},"y2":{"field":"row2"}}},
{"data":{"name":"legendDots"},"mark":{"type":"point","shape":"circle","filled":true,"size":100,"strokeWidth":1,"stroke":"#000000","opacity":1},"encoding":{"fill":{"condition":{"test":"datum.kind==='Y'","value":"#ffff00"},"value":"#0000ff"}}}
]
}
